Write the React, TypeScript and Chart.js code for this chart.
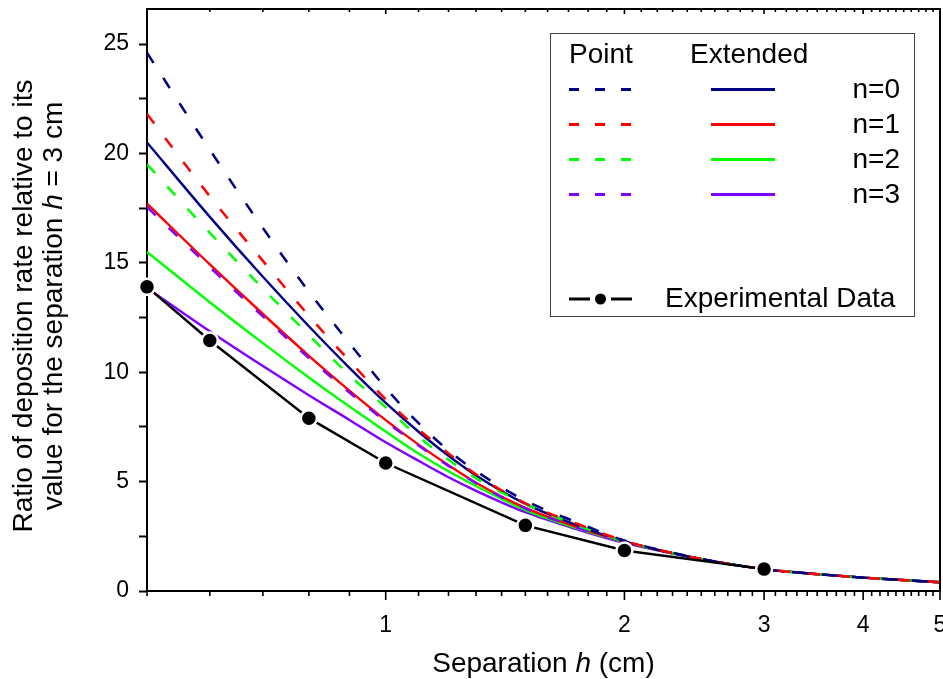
import React, { useEffect, useRef } from "react";
import { Chart, registerables } from "chart.js";

Chart.register(...registerables);

// ---------- data ----------
const hValues = [0.5, 0.6, 0.7, 0.8, 0.9, 1.0, 1.1, 1.2, 1.3, 1.5, 1.75, 2.0, 2.5, 3.0, 3.5, 4.0, 5.0];

const pointN0 = [24.6, 20.17, 16.59, 13.68, 11.33, 9.28, 7.67, 6.42, 5.48, 4.13, 3.11, 2.31, 1.47, 1.0, 0.77, 0.61, 0.4];
const pointN1 = [21.8, 18.04, 15.09, 12.58, 10.52, 8.76, 7.39, 6.29, 5.33, 4.01, 3.05, 2.29, 1.46, 1.0, 0.77, 0.61, 0.4];
const pointN2 = [19.5, 16.37, 13.83, 11.7, 9.86, 8.4, 7.05, 6.0, 5.15, 3.98, 2.98, 2.27, 1.46, 1.0, 0.77, 0.61, 0.4];
const pointN3 = [17.55, 14.8, 12.55, 10.65, 9.07, 7.75, 6.65, 5.72, 4.93, 3.78, 2.88, 2.24, 1.46, 1.0, 0.77, 0.61, 0.4];

const extN0 = [20.5, 17.1, 14.36, 12.1, 10.2, 8.6, 7.28, 6.18, 5.28, 3.98, 2.98, 2.27, 1.46, 1.0, 0.77, 0.61, 0.4];
const extN1 = [17.7, 14.93, 12.66, 10.75, 9.16, 7.81, 6.69, 5.75, 4.95, 3.8, 2.9, 2.25, 1.46, 1.0, 0.77, 0.61, 0.4];
const extN2 = [15.5, 13.2, 11.33, 9.76, 8.43, 7.29, 6.28, 5.47, 4.8, 3.7, 2.85, 2.23, 1.46, 1.0, 0.77, 0.61, 0.4];
const extN3 = [13.85, 11.87, 10.28, 8.95, 7.82, 6.8, 5.95, 5.2, 4.58, 3.6, 2.8, 2.2, 1.46, 1.0, 0.77, 0.61, 0.4];

const expH = [0.5, 0.6, 0.8, 1.0, 1.5, 2.0, 3.0];
const expRatio = [13.9, 11.45, 7.9, 5.85, 3.0, 1.85, 1.0];

const seriesNames = ["n=0", "n=1", "n=2", "n=3"];
const seriesColors = ["#000080", "#FF0000", "#00FF00", "#8000FF"];

const xMajorTicks = [1, 2, 3, 4, 5];
const xAllTicks = Array.from({ length: 46 }, (_, k) => Math.round(5 + k) / 10);
const yTicks = [0, 2.5, 5, 7.5, 10, 12.5, 15, 17.5, 20, 22.5, 25];

const X_MIN = 0.5;
const X_MAX = 5;
const Y_MIN = 0;
const Y_MAX = 26.6;

const FAMILY = "'Liberation Sans', Arial, Helvetica, sans-serif";

const pointSeries = [pointN0, pointN1, pointN2, pointN3];
const extSeries = [extN0, extN1, extN2, extN3];

// ---------- custom drawing ----------
function drawMixed(ctx: CanvasRenderingContext2D, parts: [string, boolean][], size: number, cx: number, baseline: number) {
  const widths = parts.map(([t, it]) => {
    ctx.font = `${it ? "italic " : ""}${size}px ${FAMILY}`;
    return ctx.measureText(t).width;
  });
  const total = widths.reduce((a, b) => a + b, 0);
  let x = cx - total / 2;
  ctx.textAlign = "left";
  ctx.textBaseline = "alphabetic";
  parts.forEach(([t, it], i) => {
    ctx.font = `${it ? "italic " : ""}${size}px ${FAMILY}`;
    ctx.fillText(t, x, baseline);
    x += widths[i];
  });
}

const decorPlugin = {
  id: "decor",
  afterDraw(chart: any) {
    const { ctx, chartArea: ca } = chart;
    const xs = chart.scales.x;
    ctx.save();
    ctx.strokeStyle = "#000";
    ctx.fillStyle = "#000";

    // top & right frame
    ctx.lineWidth = 2;
    ctx.beginPath();
    ctx.moveTo(ca.left - 1, ca.top);
    ctx.lineTo(ca.right, ca.top);
    ctx.lineTo(ca.right, ca.bottom + 1);
    ctx.stroke();

    // x tick marks (bottom outward, top inward)
    ctx.lineWidth = 1.6;
    xAllTicks.forEach((v) => {
      const px = xs.getPixelForValue(v);
      const major = xMajorTicks.includes(v);
      ctx.beginPath();
      ctx.moveTo(px, ca.bottom);
      ctx.lineTo(px, ca.bottom + (major ? 9 : 5));
      ctx.moveTo(px, ca.top);
      ctx.lineTo(px, ca.top + (major ? 5 : 3));
      ctx.stroke();
    });

    // axis titles
    ctx.fillStyle = "#000";
    drawMixed(ctx, [["Separation ", false], ["h", true], [" (cm)", false]], 28, (ca.left + ca.right) / 2, 672);

    const cy = 306;
    ctx.save();
    ctx.translate(32, cy);
    ctx.rotate(-Math.PI / 2);
    drawMixed(ctx, [["Ratio of deposition rate relative to its", false]], 28, 0, 0);
    ctx.restore();
    ctx.save();
    ctx.translate(62, cy);
    ctx.rotate(-Math.PI / 2);
    drawMixed(ctx, [["value for the separation ", false], ["h", true], [" = 3 cm", false]], 28, 0, 0);
    ctx.restore();

    // legend
    const L = 550, T = 33, R = 914, B = 316;
    ctx.fillStyle = "#fff";
    ctx.fillRect(L, T, R - L, B - T);
    ctx.strokeStyle = "#444";
    ctx.lineWidth = 1;
    ctx.strokeRect(L + 0.5, T + 0.5, R - L, B - T);

    ctx.fillStyle = "#000";
    ctx.font = `28px ${FAMILY}`;
    ctx.textAlign = "left";
    ctx.textBaseline = "alphabetic";
    ctx.fillText("Point", 569, 63);
    ctx.fillText("Extended", 690, 63);

    const rowY = [89.5, 124.5, 159.5, 194.5];
    seriesNames.forEach((name, i) => {
      const y = rowY[i];
      ctx.strokeStyle = seriesColors[i];
      ctx.lineWidth = 3;
      ctx.setLineDash([10, 16]);
      ctx.beginPath();
      ctx.moveTo(569, y);
      ctx.lineTo(633, y);
      ctx.stroke();
      ctx.setLineDash([]);
      ctx.beginPath();
      ctx.moveTo(711, y);
      ctx.lineTo(775, y);
      ctx.stroke();
      ctx.fillStyle = "#000";
      ctx.textAlign = "right";
      ctx.textBaseline = "middle";
      ctx.fillText(name, 900, y + 1);
    });

    const ey = 299;
    ctx.strokeStyle = "#000";
    ctx.lineWidth = 3;
    ctx.beginPath();
    ctx.moveTo(569, ey);
    ctx.lineTo(590, ey);
    ctx.moveTo(611, ey);
    ctx.lineTo(632, ey);
    ctx.stroke();
    ctx.beginPath();
    ctx.arc(600.5, ey, 5.5, 0, Math.PI * 2);
    ctx.fill();
    ctx.textAlign = "left";
    ctx.textBaseline = "middle";
    ctx.fillText("Experimental Data", 665, ey);

    ctx.restore();
  },
};

function zeroPadding(scale: any) {
  scale.paddingLeft = 0;
  scale.paddingRight = 0;
  scale.paddingTop = 0;
  scale.paddingBottom = 0;
}

// ---------- chart ----------
function buildConfig(): any {
  const datasets: any[] = [];
  extSeries.forEach((s, i) => {
    datasets.push({
      label: `Extended ${seriesNames[i]}`,
      data: hValues.map((h, j) => ({ x: h, y: s[j] })),
      borderColor: seriesColors[i],
      backgroundColor: seriesColors[i],
      borderWidth: 2.4,
      pointRadius: 0,
      fill: false,
      cubicInterpolationMode: "monotone",
      order: 2,
    });
  });
  pointSeries.forEach((s, i) => {
    datasets.push({
      label: `Point ${seriesNames[i]}`,
      data: hValues.map((h, j) => ({ x: h, y: s[j] })),
      borderColor: seriesColors[i],
      backgroundColor: seriesColors[i],
      borderWidth: 2.5,
      borderDash: [12, 18],
      pointRadius: 0,
      fill: false,
      cubicInterpolationMode: "monotone",
      order: 1,
    });
  });
  datasets.push({
    label: "Experimental Data",
    data: expH.map((h, j) => ({ x: h, y: expRatio[j] })),
    borderColor: "#000",
    backgroundColor: "#000",
    borderWidth: 2.4,
    pointRadius: 8,
    pointBorderWidth: 2.5,
    pointBorderColor: "#fff",
    pointBackgroundColor: "#000",
    tension: 0,
    fill: false,
    order: 0,
    clip: false,
  });

  return {
    type: "line",
    data: { datasets },
    options: {
      animation: false,
      responsive: false,
      maintainAspectRatio: false,
      devicePixelRatio: 1,
      events: [],
      layout: { padding: { top: 9, right: 3, left: 0, bottom: 0 }, autoPadding: false },
      plugins: { legend: { display: false }, tooltip: { enabled: false }, title: { display: false } },
      scales: {
        x: {
          type: "logarithmic",
          min: X_MIN,
          max: X_MAX,
          afterBuildTicks: (scale: any) => {
            scale.ticks = xAllTicks.map((v) => ({ value: v }));
          },
          afterFit: (scale: any) => {
            scale.height = 88;
            zeroPadding(scale);
          },
          grid: { display: false },
          border: { display: true, color: "#000", width: 2 },
          ticks: {
            autoSkip: false,
            maxRotation: 0,
            minRotation: 0,
            padding: 13,
            color: "#000",
            font: { family: FAMILY, size: 23 },
            callback: (v: any) => (xMajorTicks.includes(Number(v)) ? String(v) : ""),
          },
        },
        y: {
          type: "linear",
          min: Y_MIN,
          max: Y_MAX,
          afterBuildTicks: (scale: any) => {
            scale.ticks = yTicks.map((v) => ({ value: v }));
          },
          afterFit: (scale: any) => {
            scale.width = 147;
            zeroPadding(scale);
          },
          grid: { display: true, drawOnChartArea: false, drawTicks: true, tickLength: 8, tickWidth: 2, tickColor: "#000" },
          border: { display: true, color: "#000", width: 2 },
          ticks: {
            padding: 10,
            color: "#000",
            font: { family: FAMILY, size: 23 },
            callback: (v: any) => (Number(v) % 5 === 0 ? String(v) : ""),
          },
        },
      },
    },
    plugins: [decorPlugin],
  };
}

export default function App() {
  const ref = useRef<HTMLCanvasElement>(null);
  useEffect(() => {
    if (!ref.current) return;
    const chart = new Chart(ref.current, buildConfig());
    return () => chart.destroy();
  }, []);
  return (
    <div style={{ position: "fixed", left: 0, top: 0, width: 943, height: 679, overflow: "hidden", background: "#fff" }}>
      <canvas ref={ref} width={943} height={679} style={{ display: "block", width: 943, height: 679 }} />
    </div>
  );
}
